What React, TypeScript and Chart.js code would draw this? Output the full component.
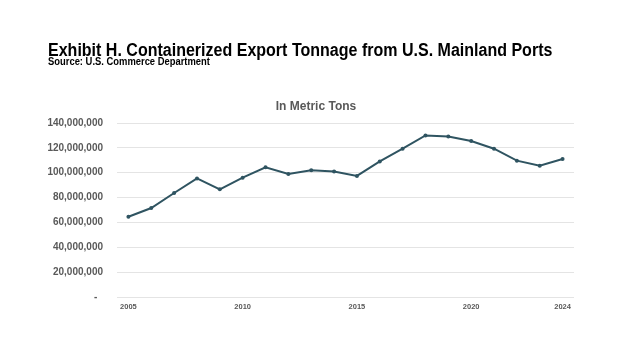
import React, { useEffect, useRef } from "react";
import { Chart, registerables } from "chart.js";

Chart.register(...registerables);

const years = ["2005","2006","2007","2008","2009","2010","2011","2012","2013","2014","2015","2016","2017","2018","2019","2020","2021","2022","2023","2024"];
const tonnage = [64.6e6, 71.6e6, 83.7e6, 95.4e6, 86.6e6, 96.0e6, 104.3e6, 99.0e6, 102.0e6, 101.0e6, 97.4e6, 109.1e6, 119.3e6, 130.0e6, 129.2e6, 125.5e6, 119.3e6, 109.7e6, 105.6e6, 111.0e6];
const shownYears = ["2005", "2010", "2015", "2020", "2024"];

const titleText = "Exhibit H. Containerized Export Tonnage from U.S. Mainland Ports";
const subtitleText = "Source: U.S. Commerce Department";
const chartTitle = "In Metric Tons";

export default function App() {
  const ref = useRef<HTMLCanvasElement | null>(null);
  useEffect(() => {
    if (!ref.current) return;
    const chart = new Chart(ref.current, {
      type: "line",
      data: {
        labels: years,
        datasets: [
          {
            data: tonnage,
            borderColor: "#2f5461",
            backgroundColor: "#2f5461",
            borderWidth: 2,
            pointRadius: 2,
            pointBorderWidth: 0,
            pointBackgroundColor: "#2f5461",
            tension: 0,
          },
        ],
      },
      options: {
        responsive: false,
        animation: false,
        layout: { padding: { left: 0, right: 50, top: 123, bottom: 34 } },
        plugins: {
          legend: { display: false },
          tooltip: { enabled: false },
          title: { display: false },
        },
        scales: {
          x: {
            offset: true,
            grid: { display: false, drawTicks: false },
            border: { display: false },
            afterFit: (s: any) => { s.height = 20; },
            ticks: {
              autoSkip: false,
              maxRotation: 0,
              padding: 5,
              color: "#595959",
              font: { family: "Liberation Sans, Arial, sans-serif", size: 7.5, weight: "bold" },
              callback: function (this: any, v: any, i: number) {
                const l = years[i];
                return shownYears.includes(l) ? l : "";
              },
            },
          },
          y: {
            min: 0,
            max: 140000000,
            afterFit: (s: any) => { s.width = 117; },
            grid: { color: "#e4e4e4", lineWidth: 1, drawTicks: false },
            border: { display: false },
            ticks: {
              stepSize: 20000000,
              padding: 14,
              color: "#595959",
              font: { family: "Liberation Sans, Arial, sans-serif", size: 10, weight: "bold" },
              callback: (v: any) => (Number(v) === 0 ? "-  " : Number(v).toLocaleString("en-US")),
            },
          },
        },
      },
    });
    return () => chart.destroy();
  }, []);

  return (
    <div style={{ position: "fixed", left: 0, top: 0, width: 624, height: 351, background: "#ffffff" }}>
      <canvas ref={ref} width={624} height={351} style={{ position: "absolute", left: 0, top: 0 }} />
      <div
        style={{
          position: "absolute",
          left: 48,
          top: 41,
          fontFamily: "'Liberation Sans', Arial, sans-serif",
          fontWeight: "bold",
          fontSize: 18,
          lineHeight: "18px",
          color: "#000",
          whiteSpace: "nowrap",
          transform: "scaleX(0.89)",
          transformOrigin: "0 0",
        }}
      >
        {titleText}
      </div>
      <div
        style={{
          position: "absolute",
          left: 48,
          top: 57,
          fontFamily: "'Liberation Sans', Arial, sans-serif",
          fontWeight: "bold",
          fontSize: 10,
          lineHeight: "10px",
          color: "#000",
          whiteSpace: "nowrap",
          transform: "scaleX(0.94)",
          transformOrigin: "0 0",
        }}
      >
        {subtitleText}
      </div>
      <div
        style={{
          position: "absolute",
          left: 216,
          width: 200,
          top: 99,
          textAlign: "center",
          fontFamily: "'Liberation Sans', Arial, sans-serif",
          fontWeight: "bold",
          fontSize: 12,
          lineHeight: "14px",
          color: "#595959",
          whiteSpace: "nowrap",
        }}
      >
        {chartTitle}
      </div>
    </div>
  );
}
